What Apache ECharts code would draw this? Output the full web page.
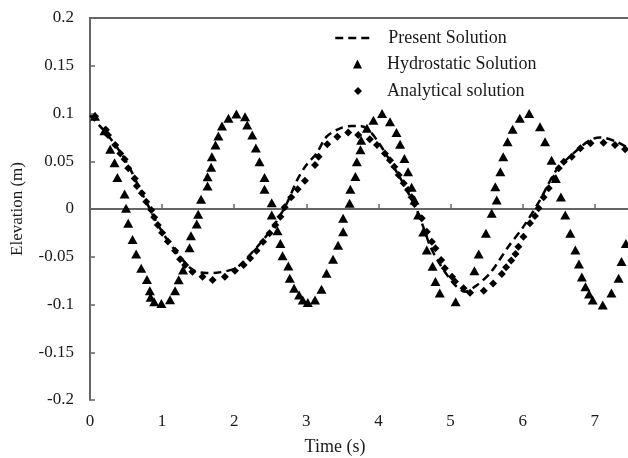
<!DOCTYPE html>
<html>
<head>
    <meta charset="utf-8">
    <script src="https://cdn.jsdelivr.net/npm/echarts@6/dist/echarts.min.js"></script>
    <style>
        body { margin: 0; background: #fff; }
        #chart { width: 628px; height: 458px; }
    </style>
</head>
<body>
<div id="chart"></div>
<script>
    // values: [time (s), elevation (m)]
    var presentSolution = [
        [0.0, 0.098], [0.25, 0.077], [0.5, 0.05], [0.75, 0.012], [1.0, -0.024],
        [1.25, -0.05], [1.43, -0.064], [1.62, -0.067], [1.76, -0.0667], [1.99, -0.063],
        [2.08, -0.0586], [2.36, -0.036], [2.54, -0.0185], [2.73, 0.006], [2.87, 0.030],
        [3.0, 0.046], [3.14, 0.058], [3.28, 0.0757], [3.47, 0.0845], [3.63, 0.087],
        [3.75, 0.087], [3.86, 0.083], [3.98, 0.072], [4.14, 0.053], [4.32, 0.030],
        [4.44, 0.013], [4.53, -0.001], [4.62, -0.0185], [4.72, -0.0395], [4.83, -0.055],
        [4.95, -0.069], [5.06, -0.0796], [5.2, -0.0866], [5.36, -0.080], [5.55, -0.067],
        [5.80, -0.0395], [6.01, -0.0185], [6.24, 0.0094], [6.47, 0.041], [6.70, 0.058],
        [6.93, 0.072], [7.07, 0.075], [7.30, 0.0705], [7.46, 0.064]
    ];

    var hydrostaticSolution = [
        [0.07, 0.097], [0.2, 0.082], [0.28, 0.0625], [0.34, 0.0485], [0.38, 0.033],
        [0.48, 0.0157], [0.5, 0.0007], [0.53, -0.015], [0.59, -0.032], [0.64, -0.047],
        [0.71, -0.062], [0.79, -0.0737], [0.83, -0.0855], [0.84, -0.0925], [0.89, -0.097],
        [0.99, -0.099], [1.11, -0.095], [1.18, -0.0855], [1.23, -0.074], [1.29, -0.064],
        [1.38, -0.0405], [1.40, -0.028], [1.48, -0.0157], [1.50, -0.0056], [1.54, 0.0101],
        [1.63, 0.024], [1.63, 0.0339], [1.68, 0.0436], [1.69, 0.0548], [1.74, 0.067],
        [1.78, 0.0764], [1.83, 0.087], [1.92, 0.095], [2.03, 0.0995], [2.15, 0.0967],
        [2.18, 0.088], [2.25, 0.0775], [2.30, 0.064], [2.35, 0.0496], [2.42, 0.033],
        [2.42, 0.0206], [2.52, 0.0066], [2.52, -0.0063], [2.60, -0.0227], [2.64, -0.036],
        [2.67, -0.049], [2.75, -0.0597], [2.77, -0.0726], [2.83, -0.083], [2.90, -0.090],
        [2.95, -0.0953], [3.02, -0.098], [3.12, -0.0953], [3.21, -0.084], [3.28, -0.0674],
        [3.37, -0.0527], [3.44, -0.038], [3.51, -0.0237], [3.51, -0.0098], [3.60, 0.006],
        [3.61, 0.0206], [3.68, 0.034], [3.70, 0.0496], [3.75, 0.062], [3.76, 0.072],
        [3.84, 0.0845], [3.93, 0.093], [4.05, 0.100], [4.16, 0.0914], [4.25, 0.080],
        [4.30, 0.0677], [4.36, 0.053], [4.41, 0.039], [4.46, 0.0227], [4.50, 0.0094],
        [4.55, -0.0063], [4.62, -0.024], [4.67, -0.043], [4.75, -0.060], [4.79, -0.076],
        [4.85, -0.088], [5.07, -0.097], [5.33, -0.0646], [5.39, -0.047], [5.49, -0.0255],
        [5.57, -0.0045], [5.64, 0.0094], [5.62, 0.0234], [5.69, 0.039], [5.73, 0.0548],
        [5.79, 0.0705], [5.86, 0.0835], [5.96, 0.095], [6.09, 0.100], [6.24, 0.086],
        [6.31, 0.0705], [6.40, 0.051], [6.46, 0.032], [6.53, 0.0126], [6.59, -0.0063],
        [6.66, -0.0254], [6.73, -0.043], [6.78, -0.0576], [6.82, -0.0712], [6.87, -0.0814],
        [6.92, -0.089], [6.97, -0.0953], [7.11, -0.1005], [7.23, -0.088], [7.33, -0.0726],
        [7.37, -0.055], [7.43, -0.036]
    ];

    var analyticalSolution = [
        [0.07, 0.097], [0.22, 0.083], [0.25, 0.0775], [0.35, 0.067], [0.42, 0.058],
        [0.48, 0.052], [0.53, 0.0426], [0.62, 0.032], [0.65, 0.024], [0.72, 0.0164],
        [0.78, 0.0077], [0.85, -0.001], [0.89, -0.0087], [0.94, -0.0168], [1.00, -0.0248],
        [1.08, -0.034], [1.18, -0.0436], [1.25, -0.0527], [1.32, -0.0586], [1.42, -0.0656],
        [1.56, -0.0709], [1.70, -0.0743], [1.87, -0.0709], [2.01, -0.0646], [2.13, -0.0586],
        [2.22, -0.0516], [2.31, -0.0437], [2.40, -0.0342], [2.49, -0.0254], [2.57, -0.0168],
        [2.64, -0.008], [2.70, 0.0018], [2.79, 0.0123], [2.88, 0.0206], [2.98, 0.0296],
        [3.12, 0.046], [3.17, 0.0548], [3.29, 0.0677], [3.43, 0.0757], [3.58, 0.080],
        [3.72, 0.0775], [3.88, 0.073], [3.98, 0.067], [4.09, 0.058], [4.16, 0.051],
        [4.22, 0.0443], [4.28, 0.0356], [4.35, 0.0269], [4.41, 0.020], [4.46, 0.0123],
        [4.50, 0.0052], [4.60, -0.0097], [4.67, -0.0238], [4.74, -0.0342], [4.79, -0.0412],
        [4.87, -0.0534], [4.92, -0.0621], [5.02, -0.0709], [5.06, -0.076], [5.18, -0.083],
        [5.27, -0.0876], [5.46, -0.0855], [5.59, -0.078], [5.71, -0.068], [5.77, -0.061],
        [5.84, -0.054], [5.90, -0.047], [5.94, -0.0395], [6.01, -0.029], [6.10, -0.015],
        [6.17, -0.0073], [6.22, 0.0007], [6.29, 0.0123], [6.36, 0.0217], [6.43, 0.032],
        [6.50, 0.0426], [6.57, 0.0495], [6.68, 0.0548], [6.80, 0.0636], [6.94, 0.0688],
        [7.12, 0.0694], [7.28, 0.067], [7.42, 0.0625]
    ];

    var seriesNames = ['Present Solution', 'Hydrostatic Solution', 'Analytical solution'];
    var xTicks = [0, 1, 2, 3, 4, 5, 6, 7];
    var yTicks = [-0.2, -0.15, -0.1, -0.05, 0, 0.05, 0.1, 0.15, 0.2];

    var font = 'Liberation Serif';
    var textColor = '#1a1a1a';
    var axisColor = '#666';

    var chart = echarts.init(document.getElementById('chart'));

    chart.setOption({
        animation: false,
        backgroundColor: '#fff',
        grid: { left: 90, right: 0, top: 18, bottom: 58 },
        legend: [
            {
                data: [seriesNames[0]], left: 329, top: 24,
                itemWidth: 38, itemHeight: 14,
                itemStyle: { color: 'transparent', borderColor: 'transparent', borderWidth: 0 },
                lineStyle: { color: '#000', width: 2.5, type: [8, 5] },
                textStyle: { fontFamily: font, fontSize: 18, color: textColor, padding: [0, 0, 0, 10] }
            },
            {
                data: [seriesNames[1]], left: 348, top: 50,
                itemWidth: 9, itemHeight: 9,
                textStyle: { fontFamily: font, fontSize: 18, color: textColor, padding: [0, 0, 0, 20] }
            },
            {
                data: [seriesNames[2]], left: 349, top: 77,
                itemWidth: 8, itemHeight: 8,
                textStyle: { fontFamily: font, fontSize: 18, color: textColor, padding: [0, 0, 0, 20] }
            }
        ],
        xAxis: [
            {
                type: 'value', min: 0, max: 7.46, interval: 1,
                axisLine: { lineStyle: { color: axisColor, width: 2 } },
                axisTick: { inside: true, length: 5, lineStyle: { color: axisColor, width: 1.5 } },
                axisLabel: {
                    fontFamily: font, fontSize: 17, color: textColor, margin: 13,
                    showMaxLabel: false,
                    formatter: function (v) { return xTicks.indexOf(v) >= 0 ? String(v) : ''; }
                },
                splitLine: { show: false }
            },
            {
                type: 'value', position: 'top', min: 0, max: 7.46,
                axisLine: { lineStyle: { color: axisColor, width: 2 } },
                axisTick: { show: false },
                axisLabel: { show: false },
                splitLine: { show: false }
            }
        ],
        yAxis: {
            type: 'value', min: yTicks[0], max: yTicks[yTicks.length - 1], interval: 0.05,
            name: 'Elevation (m)', nameLocation: 'middle', nameGap: 64,
            nameTextStyle: { fontFamily: font, fontSize: 17, color: textColor },
            axisLine: { lineStyle: { color: axisColor, width: 2 } },
            axisTick: { inside: true, length: 5, lineStyle: { color: axisColor, width: 1.5 } },
            axisLabel: { fontFamily: font, fontSize: 17, color: textColor, margin: 16 },
            splitLine: { show: false }
        },
        graphic: [
            {
                type: 'text', x: 335, y: 447,
                style: {
                    text: 'Time (s)', fill: textColor,
                    font: '18px "Liberation Serif"',
                    textAlign: 'center', textVerticalAlign: 'middle'
                }
            }
        ],
        series: [
            {
                name: seriesNames[0], type: 'line', data: presentSolution,
                smooth: 0.3, symbol: 'none', showSymbol: false,
                lineStyle: { color: '#000', width: 2.5, type: [8, 5] },
                itemStyle: { color: '#000' },
                z: 2
            },
            {
                name: seriesNames[1], type: 'scatter', data: hydrostaticSolution,
                symbol: 'triangle', symbolSize: [10, 9],
                itemStyle: { color: '#000', opacity: 1 },
                z: 3
            },
            {
                name: seriesNames[2], type: 'scatter', data: analyticalSolution,
                symbol: 'diamond', symbolSize: 8,
                itemStyle: { color: '#000', opacity: 1 },
                z: 4
            }
        ]
    });
</script>
</body>
</html>
